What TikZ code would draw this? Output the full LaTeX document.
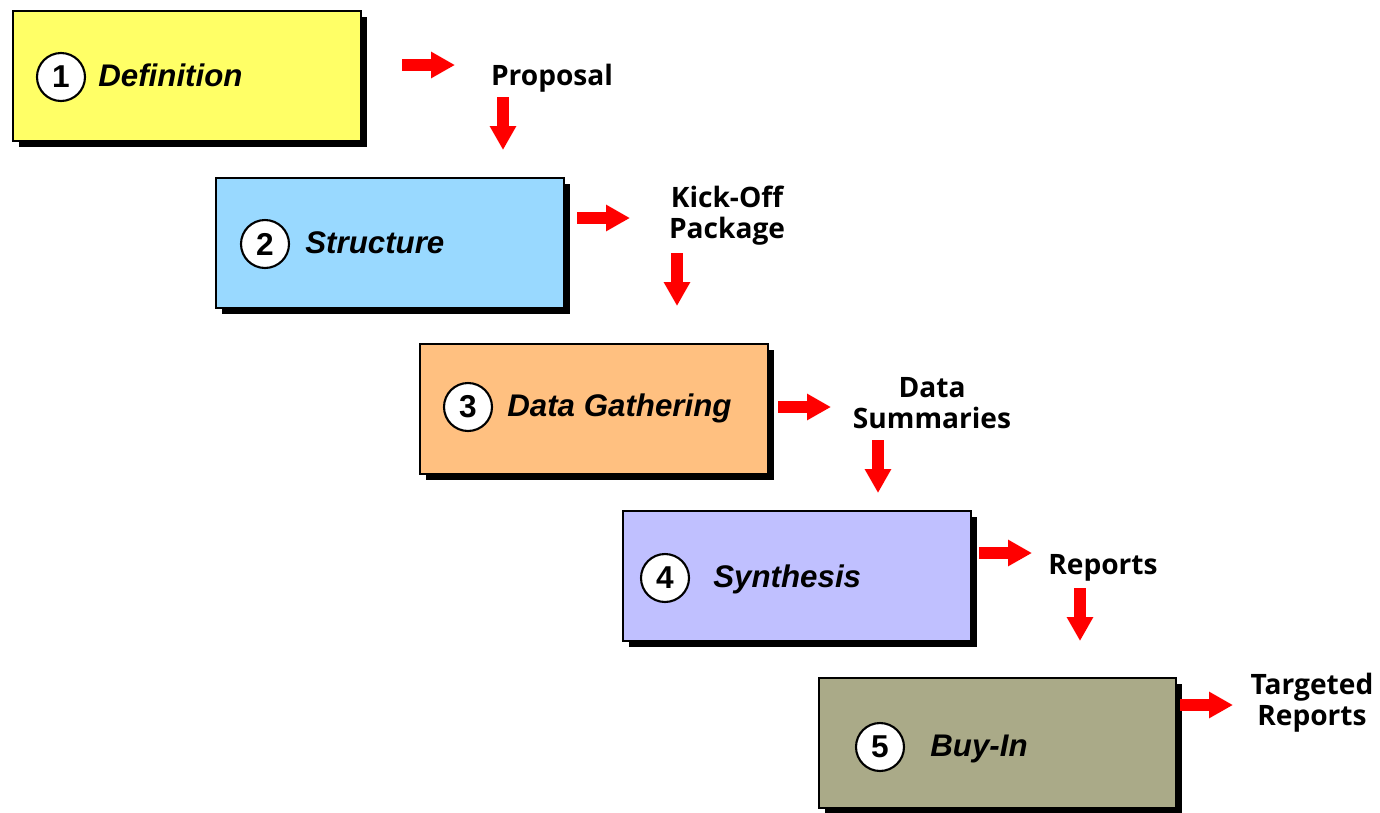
\documentclass[tikz,border=0pt]{standalone}
\usepackage{fontspec}
\setmainfont{Liberation Sans}
\newfontfamily\outfont{Open Sans}
\usepackage{tikz}
\usetikzlibrary{arrows.meta}
\usetikzlibrary{shadows}
\usepackage{xcolor}
\definecolor{stepyellow}{HTML}{FFFF66}
\definecolor{stepblue}{HTML}{99D9FF}
\definecolor{steporange}{HTML}{FFC080}
\definecolor{steplilac}{HTML}{C0C0FF}
\definecolor{stepolive}{HTML}{AAAA88}

\begin{document}
\begin{tikzpicture}[x=0.02cm, y=-0.02cm, >=Stealth,
      stepbox/.style={draw=black, line width=1pt, minimum width=6.96cm, minimum height=2.6cm,
        anchor=north west, drop shadow={shadow xshift=0.13cm, shadow yshift=-0.13cm, fill=black, opacity=1}},
      num/.style={circle, draw, line width=1.2pt, fill=white, minimum size=0.96cm, inner sep=0pt,
        font=\fontsize{18}{20}\selectfont\bfseries},
      steptext/.style={anchor=base west, inner sep=0pt, font=\fontsize{17.8}{20}\selectfont\bfseries\itshape},
      output/.style={align=center, font=\outfont\fontsize{16}{17.6}\selectfont\bfseries},
      flow/.style={red, line width=0.24cm, -{Triangle[length=0.48cm, width=0.5cm]}}]
      \useasboundingbox (0,0) rectangle (1380,812);
      % Steps
      \foreach \i/\x/\y/\c in {1/12/10/stepyellow, 2/215/177/stepblue, 3/419/343/steporange, 4/622/510/steplilac}
      \node[stepbox, fill=\c] (b\i) at (\x,\y) {};
      \node[stepbox, fill=stepolive, minimum width=7.14cm] (b5) at (818,677) {};
      % Step numbers and names
      \foreach \i/\x/\y/\tx/\name in {1/61/77/98/Definition, 2/265/244/305/Structure,
          3/468/407/507/Data Gathering, 4/665/578/713/Synthesis, 5/880/747/930/Buy-In} {
        \node[num] (n\i) at (\x,\y) {\i};
        \node[steptext] (t\i) at (\tx,{\y+9}) {\name};
      }
      % Deliverables
      \node[output] (l1) at (552,78) {Proposal};
      \node[output] (l2) at (727,216) {Kick-Off\\Package};
      \node[output] (l3) at (932,403) {Data\\Summaries};
      \node[output] (l4) at (1103,568) {Reports};
      \node[output] (l5) at (1312,703) {Targeted\\Reports};
      % Hand-off arrows
      \foreach \x/\y in {402/65, 577/218, 778/407, 979/553, 1180/705} \draw[flow] (\x,\y) -- ++(53,0);
      \foreach \x/\y in {503/97, 677/253, 878/440, 1080/588} \draw[flow] (\x,\y) -- ++(0,53);
    \end{tikzpicture}
\end{document}
